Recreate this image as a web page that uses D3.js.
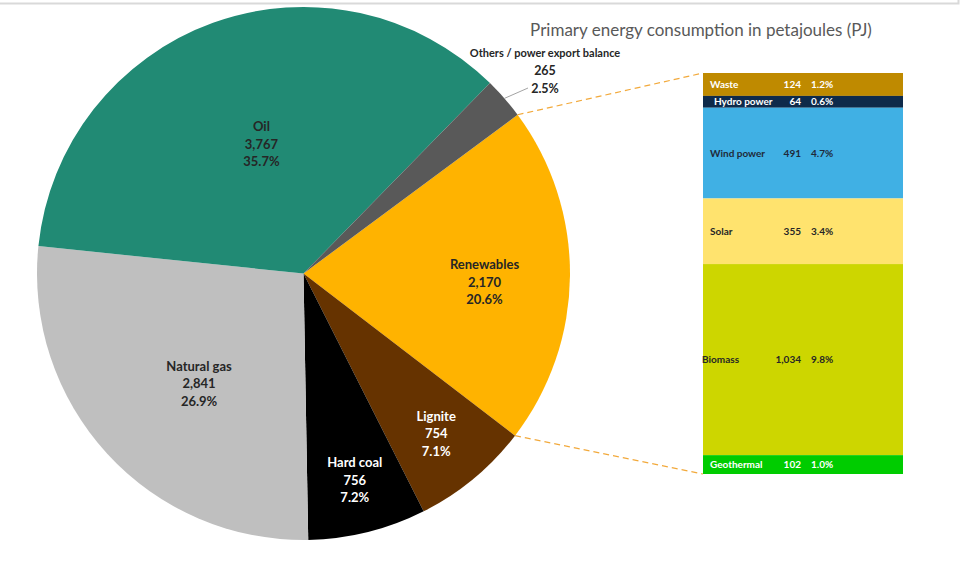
<!DOCTYPE html>
<html>
<head>
<meta charset="utf-8">
<script src="https://cdn.jsdelivr.net/npm/d3@7"></script>
<style>
  body { margin: 0; background: #fff; }
  svg { display: block; }
</style>
</head>
<body>
<div id="chart-container"></div>
<script>
// pie data (clockwise, starting with the split-out slice)
const pieCategories = ["Renewables", "Lignite", "Hard coal", "Natural gas", "Oil", "Others / power export balance"];
const pieValues = [2170, 754, 756, 2841, 3767, 265];

// bar data for renewables, top to bottom
const barCategories = ["Waste", "Hydro power", "Wind power", "Solar", "Biomass", "Geothermal"];
const barValues = [124, 64, 491, 355, 1034, 102];

const title = "Primary energy consumption in petajoules (PJ)";

// styles
const pieColors = {
    "Renewables": "#FFB300",
    "Lignite": "#663300",
    "Hard coal": "#000000",
    "Natural gas": "#BFBFBF",
    "Oil": "#218A74",
    "Others / power export balance": "#595959"
};
const pieTextColors = {
    "Renewables": "#262626",
    "Lignite": "#ffffff",
    "Hard coal": "#ffffff",
    "Natural gas": "#262626",
    "Oil": "#262626"
};
// label placement: distance from center (share of radius), angle shift in degrees
const labelPos = {
    "Renewables": [0.68, 2.3],
    "Lignite": [0.78, 0],
    "Hard coal": [0.80, 0],
    "Natural gas": [0.57, -4],
    "Oil": [0.51, 1.8]
};
const barColors = ["#BF8A00", "#0E2A4A", "#40B0E4", "#FFE36E", "#CDD600", "#00CC00"];
const barTextColors = ["#ffffff", "#ffffff", "#1F2A3A", "#262626", "#262626", "#ffffff"];

const width = 979, height = 565;
const cx = 303.5, cy = 273.5, R = 266.5;
const bar = { x: 703, w: 200, top: 73, bottom: 474 };

const total = d3.sum(pieValues);
const fmtNum = d3.format(",");
const fmtPct = d3.format(".1%");

const svg = d3.select("#chart-container")
    .append("svg")
    .attr("width", width)
    .attr("height", height)
    .style("font-family", "Lato, 'Open Sans', sans-serif");

// thin frame line at the top
svg.append("path")
    .attr("d", "M0,3.5H958.5V0")
    .attr("fill", "none")
    .attr("stroke", "#D9D9D9")
    .attr("stroke-width", 2);

// pie - split slice centered on the right side
const renAngle = pieValues[0] / total * 2 * Math.PI;
const start = Math.PI / 2 - renAngle / 2 + 0.008;
const pie = d3.pie().sort(null).startAngle(start).endAngle(start + 2 * Math.PI);
const arcs = pie(pieValues).map((a, i) => ({ ...a, name: pieCategories[i] }));
const arc = d3.arc().innerRadius(0).outerRadius(R);

const g = svg.append("g").attr("transform", `translate(${cx},${cy})`);

g.selectAll("path.slice")
    .data(arcs)
    .join("path")
    .attr("class", "slice")
    .attr("d", arc)
    .attr("fill", d => pieColors[d.name]);

// labels inside the slices
arcs.filter(d => labelPos[d.name]).forEach(d => {
    const [k, shift] = labelPos[d.name];
    const r = k * R;
    const a = (d.startAngle + d.endAngle) / 2 + shift * Math.PI / 180;
    const x = r * Math.sin(a), y = -r * Math.cos(a);
    const t = g.append("text")
        .attr("text-anchor", "middle")
        .attr("font-size", 13)
        .attr("font-weight", "bold")
        .attr("fill", pieTextColors[d.name]);
    [d.name, fmtNum(d.value), fmtPct(d.value / total)].forEach((s, j) => {
        t.append("tspan").attr("x", x).attr("y", y + (j - 1) * 17.5 + 4.5).text(s);
    });
});

// outside label for "Others"
const others = arcs[arcs.length - 1];
const oa = (others.startAngle + others.endAngle) / 2;
const ox = R * Math.sin(oa), oy = -R * Math.cos(oa);
g.append("line")
    .attr("x1", ox).attr("y1", oy)
    .attr("x2", 528 - cx).attr("y2", 88 - cy)
    .attr("stroke", "#8C8C8C")
    .attr("stroke-width", 0.8);
const ot = svg.append("text")
    .attr("text-anchor", "middle")
    .attr("font-weight", "bold")
    .attr("fill", "#262626");
ot.append("tspan").attr("x", 545).attr("y", 57).attr("font-size", 11).text(others.name);
ot.append("tspan").attr("x", 545).attr("y", 75).attr("font-size", 12.5).text(fmtNum(others.value));
ot.append("tspan").attr("x", 545).attr("y", 93).attr("font-size", 12.5).text(fmtPct(others.value / total));

// bar of the renewables
const renTotal = d3.sum(barValues);
const yScale = d3.scaleLinear().domain([0, renTotal]).range([bar.top, bar.bottom]);
const cum = d3.cumsum(barValues);
const segs = barValues.map((v, i) => ({ name: barCategories[i], value: v, y0: cum[i] - v, y1: cum[i], i }));

const bg = svg.append("g");
bg.selectAll("rect")
    .data(segs)
    .join("rect")
    .attr("x", bar.x)
    .attr("y", d => yScale(d.y0))
    .attr("width", bar.w)
    .attr("height", d => yScale(d.y1) - yScale(d.y0))
    .attr("fill", d => barColors[d.i]);

const rows = bg.selectAll("g.row")
    .data(segs)
    .join("g")
    .attr("class", "row")
    .attr("transform", d => `translate(0,${(yScale(d.y0) + yScale(d.y1)) / 2 + 3.5})`)
    .attr("font-size", 10)
    .attr("font-weight", "bold")
    .attr("fill", d => barTextColors[d.i]);
rows.append("text").attr("x", d => d.name === "Biomass" ? 702 : (d.name === "Hydro power" ? 714 : 710)).text(d => d.name);
rows.append("text").attr("x", 801).attr("text-anchor", "end").text(d => fmtNum(d.value));
rows.append("text").attr("x", 811).text(d => fmtPct(d.value / total));

// dashed connectors
const ren = arcs[0];
const p0 = [cx + R * Math.sin(ren.startAngle), cy - R * Math.cos(ren.startAngle)];
const p1 = [cx + R * Math.sin(ren.endAngle), cy - R * Math.cos(ren.endAngle)];
svg.append("line")
    .attr("x1", p0[0]).attr("y1", p0[1]).attr("x2", bar.x).attr("y2", bar.top)
    .attr("stroke", "#F2A93B").attr("stroke-width", 1.2).attr("stroke-dasharray", "6,4");
svg.append("line")
    .attr("x1", p1[0]).attr("y1", p1[1]).attr("x2", bar.x).attr("y2", bar.bottom)
    .attr("stroke", "#F2A93B").attr("stroke-width", 1.2).attr("stroke-dasharray", "6,4");

// title
svg.append("text")
    .attr("x", 701)
    .attr("y", 36)
    .attr("text-anchor", "middle")
    .attr("font-size", 17)
    .attr("fill", "#595959")
    .text(title);
</script>
</body>
</html>
